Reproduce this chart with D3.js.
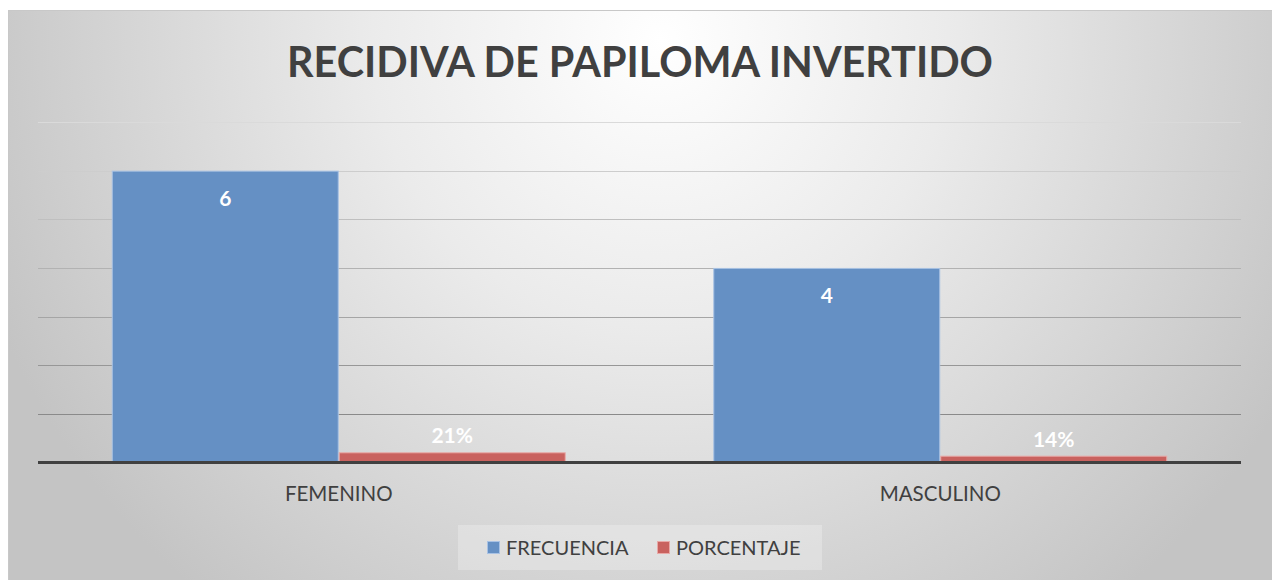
<!DOCTYPE html>
<html>
<head>
<meta charset="utf-8">
<script src="https://cdn.jsdelivr.net/npm/d3@7"></script>
<style>
  body { margin: 0; background: #fff; }
  svg { display: block; font-family: Lato, "Open Sans", sans-serif; }
</style>
</head>
<body>
<div id="chart"></div>
<script>
// data
var categories = ["FEMENINO", "MASCULINO"];
var seriesNames = ["FRECUENCIA", "PORCENTAJE"];
var frecuencia = [6, 4];
var porcentaje = [0.21, 0.14];
var yTicks = [0, 1, 2, 3, 4, 5, 6, 7];

var W = 1272, H = 580;
var colors = { FRECUENCIA: "#6590c4", PORCENTAJE: "#c9625f" };
var borders = { FRECUENCIA: "#a8c2e4", PORCENTAJE: "#e8a9a7" };

var svg = d3.select("#chart").append("svg")
  .attr("width", W).attr("height", H);

var defs = svg.append("defs");
var bg = defs.append("radialGradient")
  .attr("id", "bg")
  .attr("gradientUnits", "userSpaceOnUse")
  .attr("cx", 660).attr("cy", 40).attr("r", 720);
bg.append("stop").attr("offset", 0).attr("stop-color", "#ffffff");
bg.append("stop").attr("offset", 0.4).attr("stop-color", "#ebebeb");
bg.append("stop").attr("offset", 1).attr("stop-color", "#c4c4c4");

// chart frame
svg.append("rect")
  .attr("x", 8.5).attr("y", 10.5)
  .attr("width", W - 8).attr("height", H - 10)
  .attr("fill", "url(#bg)")
  .attr("stroke", "#c8c8c8");

// title
var title = svg.append("text")
  .attr("x", 640).attr("y", 77)
  .attr("text-anchor", "middle")
  .attr("font-weight", "bold")
  .attr("font-size", 50)
  .attr("fill", "#404040")
  .text("RECIDIVA DE PAPILOMA INVERTIDO");
var tw = title.node().getComputedTextLength();
title.attr("font-size", 50 * 706 / tw);

var plot = { left: 38, right: 1241, top: 122, bottom: 462.5 };

var x0 = d3.scaleBand().domain(categories)
  .range([plot.left, plot.right]).padding(0);
var x1 = d3.scaleBand().domain(seriesNames)
  .range([0, x0.bandwidth()]).paddingInner(0).paddingOuter(0.325);
var y = d3.scaleLinear().domain([0, 7]).range([plot.bottom, plot.top]);

// gridlines, lighter toward the top
var gridColor = d3.scaleLinear().domain([1, 7]).range(["#8a8a8a", "#dadada"]);
svg.append("g").selectAll("line")
  .data(yTicks.filter(function(d){ return d > 0; }))
  .enter().append("line")
  .attr("x1", plot.left).attr("x2", plot.right)
  .attr("y1", function(d){ return Math.round(y(d)) + 0.5; })
  .attr("y2", function(d){ return Math.round(y(d)) + 0.5; })
  .attr("stroke", function(d){ return gridColor(d); })
  .attr("stroke-width", 1.2);

// bars
var rows = categories.map(function(c, i){
  return [
    { cat: c, key: "FRECUENCIA", value: frecuencia[i], label: String(frecuencia[i]) },
    { cat: c, key: "PORCENTAJE", value: porcentaje[i], label: Math.round(porcentaje[i] * 100) + "%" }
  ];
});

var groups = svg.append("g").selectAll("g")
  .data(rows).enter().append("g")
  .attr("transform", function(d){ return "translate(" + x0(d[0].cat) + ",0)"; });

groups.selectAll("rect")
  .data(function(d){ return d; })
  .enter().append("rect")
  .attr("x", function(d){ return x1(d.key) + 0.5; })
  .attr("y", function(d){ return y(d.value) + 0.5; })
  .attr("width", x1.bandwidth() - 1)
  .attr("height", function(d){ return y(0) - y(d.value); })
  .attr("fill", function(d){ return colors[d.key]; })
  .attr("stroke", function(d){ return borders[d.key]; })
  .attr("stroke-width", 1);

// data labels: inside end for frecuencia, outside end for porcentaje
groups.selectAll("text")
  .data(function(d){ return d; })
  .enter().append("text")
  .attr("x", function(d){ return x1(d.key) + x1.bandwidth() / 2; })
  .attr("y", function(d){
    return d.key === "FRECUENCIA" ? y(d.value) + 35 : y(d.value) - 9;
  })
  .attr("text-anchor", "middle")
  .attr("font-weight", "bold")
  .attr("font-size", 21)
  .attr("fill", "#ffffff")
  .text(function(d){ return d.label; });

// x axis
svg.append("line")
  .attr("x1", plot.left).attr("x2", plot.right)
  .attr("y1", y(0)).attr("y2", y(0))
  .attr("stroke", "#404040").attr("stroke-width", 3);

var xAxis = svg.append("g")
  .attr("transform", "translate(0," + y(0) + ")")
  .call(d3.axisBottom(x0).tickSize(0).tickPadding(24));
xAxis.select(".domain").remove();
xAxis.selectAll("text")
  .attr("font-family", "Lato, 'Open Sans', sans-serif")
  .attr("font-size", 20.5)
  .attr("fill", "#404040");

// legend
var legend = svg.append("g");
legend.append("rect")
  .attr("x", 458).attr("y", 525)
  .attr("width", 364).attr("height", 45)
  .attr("fill", "#ffffff").attr("fill-opacity", 0.25);

var legendX = [487, 657];
var items = legend.selectAll("g.item")
  .data(seriesNames).enter().append("g")
  .attr("class", "item")
  .attr("transform", function(d, i){ return "translate(" + legendX[i] + ",541)"; });
items.append("rect")
  .attr("x", 0.5).attr("y", 0.5)
  .attr("width", 12).attr("height", 12)
  .attr("fill", function(d){ return colors[d]; })
  .attr("stroke", function(d){ return borders[d]; });
items.append("text")
  .attr("x", 19).attr("y", 14)
  .attr("font-size", 20)
  .attr("fill", "#404040")
  .text(function(d){ return d; });
</script>
</body>
</html>
